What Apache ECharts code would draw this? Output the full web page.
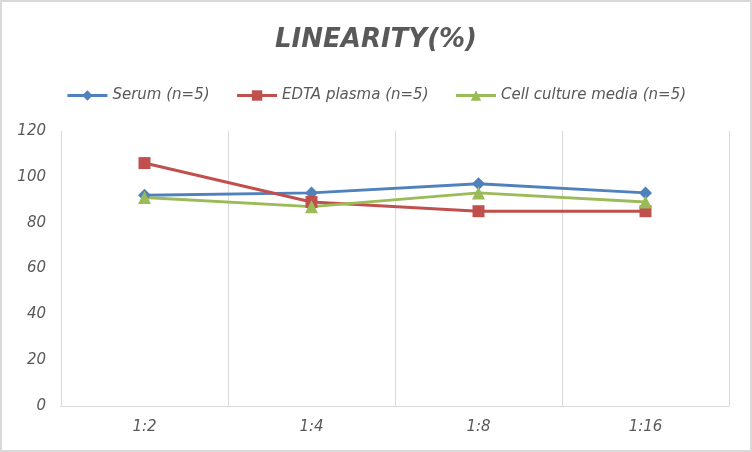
<!DOCTYPE html>
<html><head><meta charset="utf-8">
<script src="https://cdn.jsdelivr.net/npm/echarts@6/dist/echarts.min.js"></script>
<style>
html,body{margin:0;padding:0;background:#d9d9d9;}
#c{position:absolute;left:2px;top:2px;width:748px;height:448px;background:#fff;}
</style></head>
<body><div id="c"></div>
<script>
var categories = ['1:2', '1:4', '1:8', '1:16'];
var serum = [92, 93, 97, 93];
var edta = [106, 89, 85, 85];
var cellCulture = [91, 87, 93, 89];
var seriesNames = ['Serum (n=5)', 'EDTA plasma (n=5)', 'Cell culture media (n=5)'];

var chart = echarts.init(document.getElementById('c'));
var font = '"DejaVu Sans", sans-serif';
chart.setOption({
  animation: false,
  title: {
    text: 'LINEARITY(%)', left: 'center', top: 20,
    textStyle: {fontFamily: font, fontSize: 26, fontWeight: 'bold', fontStyle: 'italic', color: '#595959'}
  },
  legend: {
    top: 81, left: 'center', itemWidth: 40, itemHeight: 13, itemGap: 26,
    lineStyle: {width: 3},
    textStyle: {fontFamily: font, fontSize: 15, fontStyle: 'italic', color: '#595959'},
    data: seriesNames
  },
  grid: {left: 59, right: 21, top: 129, bottom: 44},
  xAxis: {
    type: 'category', data: categories, boundaryGap: true,
    axisLine: {show: true, lineStyle: {color: '#d9d9d9', width: 1}},
    axisTick: {show: false},
    splitLine: {show: true, lineStyle: {color: '#d9d9d9', width: 1}},
    axisLabel: {fontFamily: font, fontSize: 15, fontStyle: 'italic', color: '#595959', margin: 14}
  },
  yAxis: {
    type: 'value', min: 0, max: 120, interval: 20,
    axisLine: {show: false}, axisTick: {show: false},
    splitLine: {show: false},
    axisLabel: {fontFamily: font, fontSize: 15, fontStyle: 'italic', color: '#595959', margin: 15}
  },
  series: [
    {name: seriesNames[0], type: 'line', data: serum, symbol: 'diamond', symbolSize: 13,
      lineStyle: {color: '#4f81bd', width: 3}, itemStyle: {color: '#4f81bd'}},
    {name: seriesNames[1], type: 'line', data: edta, symbol: 'rect', symbolSize: 12,
      lineStyle: {color: '#c0504d', width: 3}, itemStyle: {color: '#c0504d'}},
    {name: seriesNames[2], type: 'line', data: cellCulture, symbol: 'triangle', symbolSize: 13,
      lineStyle: {color: '#9bbb59', width: 3}, itemStyle: {color: '#9bbb59'}}
  ]
});
</script></body></html>
